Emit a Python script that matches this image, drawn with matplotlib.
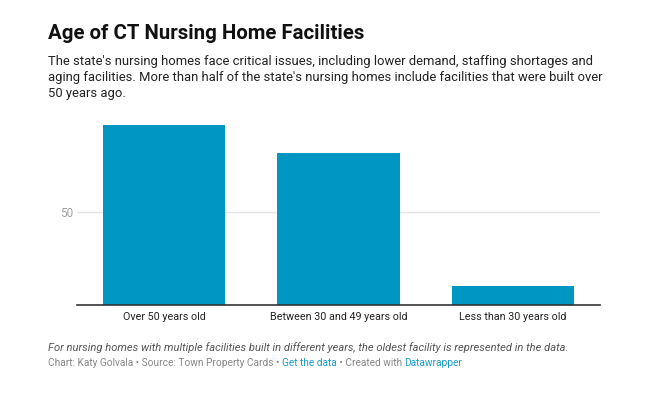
import matplotlib.pyplot as plt
import numpy as np

categories = ["Over 50 years old", "Between 30 and 49 years old", "Less than 30 years old"]
values = [97, 82, 10]
yticks = [50]

title = "Age of CT Nursing Home Facilities"
subtitle_lines = ["The state's nursing homes face critical issues, including lower demand, staffing shortages and",
                  "aging facilities. More than half of the state's nursing homes include facilities that were built over",
                  "50 years ago."]
note = "For nursing homes with multiple facilities built in different years, the oldest facility is represented in the data."
credits = [("Chart: Katy Golvala \u2022 Source: Town Property Cards \u2022 ", "#888888"),
           ("Get the data", "#1a9bc7"),
           (" \u2022 Created with ", "#888888"),
           ("Datawrapper", "#1a9bc7")]

plt.rcParams['font.family'] = ['Roboto', 'DejaVu Sans']

W, H = 660, 394
fig = plt.figure(figsize=(W / 100, H / 100), dpi=100)

# plot area in pixels
left, right, top, bottom = 77, 600, 115, 305
ax = fig.add_axes([left / W, 1 - bottom / H, (right - left) / W, (bottom - top) / H])

px_per_unit = 92.7 / 50
ax.set_ylim(0, (bottom - top) / px_per_unit)
x = np.arange(len(categories))
ax.set_xlim(-0.5, len(categories) - 0.5)
ax.bar(x, values, width=0.70, color="#0096c3", zorder=2)

ax.set_yticks(yticks)
ax.set_yticklabels([str(t) for t in yticks])
ax.grid(axis='y', color="#e5e5e5", linewidth=1, zorder=0)
ax.tick_params(axis='y', length=0, labelsize=8.5, labelcolor="#a0a0a0", pad=3)
ax.set_xticks(x)
ax.set_xticklabels(categories)
ax.tick_params(axis='x', length=0, labelsize=7.75, labelcolor="#222222", pad=5)
for s in ['top', 'right', 'left']:
    ax.spines[s].set_visible(False)
ax.spines['bottom'].set_color("#333333")
ax.spines['bottom'].set_linewidth(1.2)
ax.spines['bottom'].set_zorder(3)

fx = 48 / W
fig.text(fx, 1 - 39 / H, title, fontsize=14.7, fontweight='bold', color="#111111", va='baseline')
for i, line in enumerate(subtitle_lines):
    fig.text(fx, 1 - (65 + 16 * i) / H, line, fontsize=9.35, color="#222222", va='baseline')
fig.text(fx, 1 - 351 / H, note, fontsize=8.0, style='italic', color="#555555", va='baseline')

fig.canvas.draw()
renderer = fig.canvas.get_renderer()
xpos = 48
for txt, col in credits:
    t = fig.text(xpos / W, 1 - 366.5 / H, txt, fontsize=7.3, color=col, va='baseline')
    bb = t.get_window_extent(renderer=renderer)
    xpos += bb.width

fig.savefig("out.png", dpi=100)
